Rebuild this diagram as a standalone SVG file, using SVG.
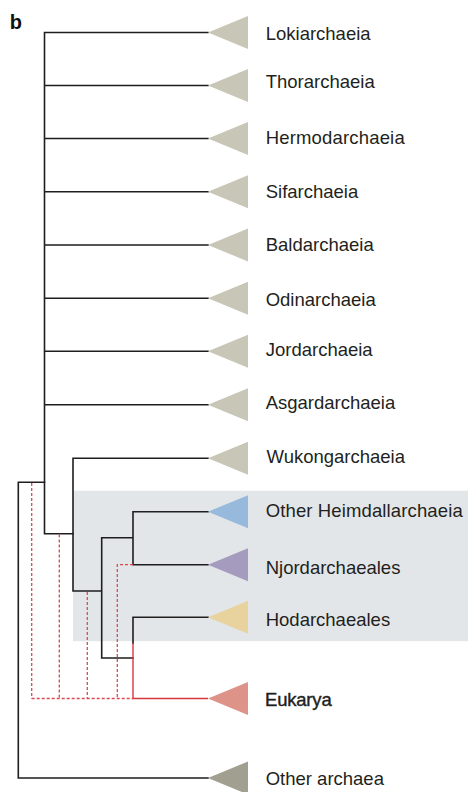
<svg xmlns="http://www.w3.org/2000/svg" width="468" height="792" viewBox="0 0 468 792">
<style>
.lbl{font-family:"Liberation Sans",Arial,Helvetica,sans-serif;font-size:18.5px;fill:#231f20}
.br{fill:none;stroke:#1e1e1e;stroke-width:1.6;stroke-linecap:square}
.rs{fill:none;stroke:#d8363c;stroke-width:1.4}
.rd{fill:none;stroke:#db4a50;stroke-width:1.3;stroke-dasharray:3 2}
.asg{fill:#c8c6b6}
</style>
<defs>
<polygon id="tri" points="0,0 40,-16.5 40,16.5"/>
</defs>
<rect id="heimdall-shade" x="73" y="490.7" width="395" height="150.5" fill="#e3e6e9"/>
<text x="9.7" y="29.3" font-family="Liberation Sans,Arial,sans-serif" font-weight="bold" font-size="20" fill="#111">b</text>
<g id="connectors">
<path class="br" d="M44.5,32.5V533.7H73 M44.5,32.5H208 M44.5,85.5H208 M44.5,138.5H208 M44.5,191.7H208 M44.5,245H208 M44.5,298.3H208 M44.5,351.3H208 M44.5,404.7H208"/>
<path class="br" d="M18.3,482.3H44.5 M18.3,482.3V778H208"/>
<path class="br" d="M73,458.3H208 M73,458.3V591H101.7 M101.7,537.7V658H133 M101.7,537.7H133 M133,511.7V564.7 M133,511.7H208 M133,564.7H208 M133,617.3H208 M133,617.3V643.3"/>
<path class="rs" d="M133,643.3V698.5H208"/>
<path class="rd" d="M31.7,483V698.5 M59.3,534.5V698.5 M87.3,592V698.5 M133,564.7H117.3V698.5 M31.7,698.5H133"/>
</g>
<g id="lokiarchaeia"><use href="#tri" x="208" y="32.5" class="asg"/><text class="lbl" x="265.7" y="40">Lokiarchaeia</text></g>
<g id="thorarchaeia"><use href="#tri" x="208" y="85.5" class="asg"/><text class="lbl" x="265.7" y="88">Thorarchaeia</text></g>
<g id="hermodarchaeia"><use href="#tri" x="208" y="138.5" class="asg"/><text class="lbl" x="265.7" y="144" textLength="139">Hermodarchaeia</text></g>
<g id="sifarchaeia"><use href="#tri" x="208" y="191.7" class="asg"/><text class="lbl" x="265.7" y="197.7">Sifarchaeia</text></g>
<g id="baldarchaeia"><use href="#tri" x="208" y="245" class="asg"/><text class="lbl" x="265.7" y="250.7">Baldarchaeia</text></g>
<g id="odinarchaeia"><use href="#tri" x="208" y="298.3" class="asg"/><text class="lbl" x="265.7" y="306">Odinarchaeia</text></g>
<g id="jordarchaeia"><use href="#tri" x="208" y="351.3" class="asg"/><text class="lbl" x="265.7" y="356">Jordarchaeia</text></g>
<g id="asgardarchaeia"><use href="#tri" x="208" y="404.7" class="asg"/><text class="lbl" x="265.7" y="409">Asgardarchaeia</text></g>
<g id="wukongarchaeia"><use href="#tri" x="208" y="458.3" class="asg"/><text class="lbl" x="266.5" y="463.3">Wukongarchaeia</text></g>
<g id="other-heimdallarchaeia"><use href="#tri" x="208" y="511.7" fill="#96b9dc"/><text class="lbl" x="265.7" y="516.7" textLength="197">Other Heimdallarchaeia</text></g>
<g id="njordarchaeales"><use href="#tri" x="208" y="564.7" fill="#a59bbe"/><text class="lbl" x="265.7" y="574.3">Njordarchaeales</text></g>
<g id="hodarchaeales"><use href="#tri" x="208" y="617.3" fill="#e8d39f"/><text class="lbl" x="265.7" y="626">Hodarchaeales</text></g>
<g id="eukarya"><use href="#tri" x="208" y="698.5" fill="#de9388"/><text class="lbl" x="265" y="706" stroke="#231f20" stroke-width="0.4" letter-spacing="-0.2">Eukarya</text></g>
<g id="other-archaea"><use href="#tri" x="208" y="778" fill="#a19f8f"/><text class="lbl" x="265.7" y="785">Other archaea</text></g>
</svg>
